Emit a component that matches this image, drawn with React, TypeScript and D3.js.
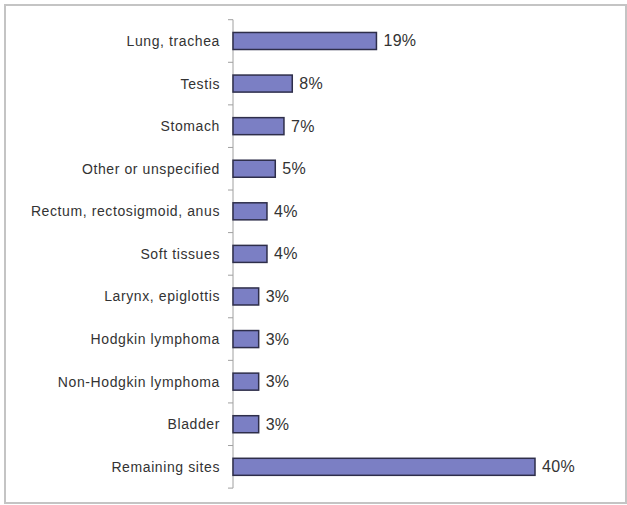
import React from "react";
import * as d3 from "d3";

const categories = [
  "Lung, trachea",
  "Testis",
  "Stomach",
  "Other or unspecified",
  "Rectum, rectosigmoid, anus",
  "Soft tissues",
  "Larynx, epiglottis",
  "Hodgkin lymphoma",
  "Non-Hodgkin lymphoma",
  "Bladder",
  "Remaining sites",
];
const values = [19, 7.85, 6.75, 5.6, 4.5, 4.5, 3.4, 3.4, 3.4, 3.4, 40];
const valueLabels = ["19%", "8%", "7%", "5%", "4%", "4%", "3%", "3%", "3%", "3%", "40%"];

const W = 627;
const H = 505;
const axisX = 233;
const yTop = 19.7;
const yBottom = 488.1;

export default function App() {
  const x = d3.scaleLinear().domain([0, 40]).range([axisX, axisX + 302]);
  const y = d3
    .scaleBand<string>()
    .domain(categories)
    .range([yTop, yBottom])
    .paddingInner(0.6)
    .paddingOuter(0.3);
  const step = y.step();
  const tickYs = d3.range(categories.length + 1).map((i) => yTop + i * step);
  const font = "Liberation Sans, Arial, sans-serif";

  return (
    <svg
      width={W}
      height={H}
      style={{ position: "absolute", left: 0, top: 0, background: "#fff" }}
    >
      <rect x={5} y={5} width={621} height={498} fill="#fff" stroke="#c4c4c4" strokeWidth={2} />
      <line x1={axisX} x2={axisX} y1={yTop} y2={yBottom} stroke="#a0a0a0" strokeWidth={1} />
      {tickYs.map((ty, i) => (
        <line key={i} x1={axisX - 5} x2={axisX} y1={ty} y2={ty} stroke="#a0a0a0" strokeWidth={1} />
      ))}
      {categories.map((c, i) => {
        const by = y(c)!;
        const bw = y.bandwidth();
        return (
          <g key={c}>
            <rect
              x={x(0)}
              y={by}
              width={x(values[i]) - x(0)}
              height={bw}
              fill="#7b7fc4"
              stroke="#2e2e4a"
              strokeWidth={1.5}
            />
            <text
              x={axisX - 13}
              y={by + bw / 2}
              textAnchor="end"
              dominantBaseline="central"
              fontFamily={font}
              fontSize={14}
              letterSpacing={0.6}
              fill="#333"
            >
              {c}
            </text>
            <text
              x={x(values[i]) + 7}
              y={by + bw / 2}
              dominantBaseline="central"
              fontFamily={font}
              fontSize={16}
              letterSpacing={0.3}
              fill="#333"
            >
              {valueLabels[i]}
            </text>
          </g>
        );
      })}
    </svg>
  );
}
